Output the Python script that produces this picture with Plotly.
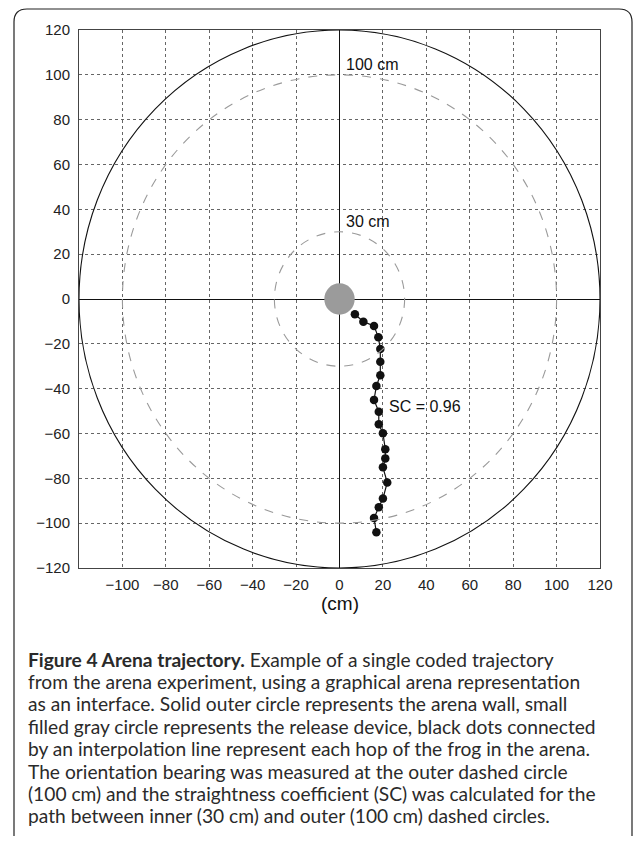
import plotly.graph_objects as go

# ---- data ----
hop_x = [7.1, 11.0, 15.9, 17.9, 18.8, 18.8, 18.8, 17.0, 15.9, 18.1,
         18.1, 20.0, 21.1, 21.1, 20.0, 22.0, 20.0, 18.1, 15.9, 17.0]
hop_y = [-6.8, -10.1, -12.0, -17.1, -22.3, -28.0, -34.0, -38.8, -45.0, -50.3,
         -55.9, -59.9, -67.0, -71.1, -75.1, -81.9, -89.0, -92.9, -97.7, -104.1]
arena_radius = 120
dashed_radii = [100, 30]
release_radius = 7
x_ticks = [-100, -80, -60, -40, -20, 0, 20, 40, 60, 80, 100, 120]
y_ticks = [-120, -100, -80, -60, -40, -20, 0, 20, 40, 60, 80, 100, 120]
circle_labels = [("100 cm", 2, 104.5), ("30 cm", 2, 34.4)]
sc_label = ("SC = 0.96", 22, -47.8)

caption_lines = [
    "<b>Figure 4 Arena trajectory.</b> Example of a single coded trajectory",
    "from the arena experiment, using a graphical arena representation",
    "as an interface. Solid outer circle represents the arena wall, small",
    "filled gray circle represents the release device, black dots connected",
    "by an interpolation line represent each hop of the frog in the arena.",
    "The orientation bearing was measured at the outer dashed circle",
    "(100 cm) and the straightness coefficient (SC) was calculated for the",
    "path between inner (30 cm) and outer (100 cm) dashed circles.",
]

# ---- layout geometry (pixels) ----
W, H = 635, 841
L, R, T, B = 79, 600, 30, 568

def px(x):
    return (x - L) / (R - L)

def py(y):
    return (B - y) / (B - T)

fig = go.Figure()

shapes = []
shapes.append(dict(type="circle", xref="x", yref="y",
                   x0=-arena_radius, x1=arena_radius, y0=-arena_radius, y1=arena_radius,
                   line=dict(color="#111", width=1.1), layer="above"))
for r in dashed_radii:
    shapes.append(dict(type="circle", xref="x", yref="y", x0=-r, x1=r, y0=-r, y1=r,
                       line=dict(color="#9a9a9a", width=1.1, dash="dash"), layer="above"))
shapes.append(dict(type="circle", xref="x", yref="y",
                   x0=-release_radius, x1=release_radius, y0=-release_radius, y1=release_radius,
                   fillcolor="#9b9b9b", line=dict(width=0), layer="above"))

# figure frame (rounded, cut off at right/bottom)
fl, ft, fr, fb, rad = 14, 9, 632, 836, 13
frame_path = (f"M {px(fl)} {py(fb)} L {px(fl)} {py(ft+rad)} "
              f"Q {px(fl)} {py(ft)} {px(fl+rad)} {py(ft)} "
              f"L {px(fr-rad)} {py(ft)} Q {px(fr)} {py(ft)} {px(fr)} {py(ft+rad)} "
              f"L {px(fr)} {py(fb)}")
shapes.append(dict(type="path", xref="paper", yref="paper", path=frame_path,
                   line=dict(color="#222", width=1.2)))

fig.add_trace(go.Scatter(x=hop_x, y=hop_y, mode="lines+markers",
                         line=dict(color="#111", width=1.2),
                         marker=dict(color="#111", size=8.5),
                         showlegend=False, hoverinfo="skip"))

annotations = []
for text, x, y in circle_labels + [sc_label]:
    annotations.append(dict(x=x, y=y, xref="x", yref="y", text=text, showarrow=False,
                            xanchor="left", yanchor="middle",
                            font=dict(family="Liberation Sans", size=16, color="#111")))

annotations.append(dict(x=px(339.5), y=py(603), xref="paper", yref="paper", text="(cm)",
                        showarrow=False, xanchor="center", yanchor="middle",
                        font=dict(family="Liberation Sans", size=19, color="#111")))

y0, dy = 659, 22.4
for i, line in enumerate(caption_lines):
    annotations.append(dict(x=px(26), y=py(y0 + i * dy), xref="paper", yref="paper",
                            text=line, showarrow=False, xanchor="left", yanchor="middle",
                            font=dict(family="Lato", size=19.2, color="#2a2a2a")))

axis_common = dict(showgrid=True, gridcolor="#666", griddash="dot", gridwidth=1,
                   zeroline=True, zerolinecolor="#111", zerolinewidth=1.4,
                   showline=True, mirror=True, linecolor="#444", linewidth=1,
                   ticks="", tickfont=dict(family="Liberation Sans", size=15, color="#222"),
                   range=[-120, 120], fixedrange=True)

fig.update_layout(
    width=W, height=H,
    margin=dict(l=L, r=W - R, t=T, b=H - B),
    paper_bgcolor="white", plot_bgcolor="white",
    xaxis=dict(tickvals=x_ticks, ticklabelstandoff=3, **axis_common),
    yaxis=dict(tickvals=y_ticks, ticklabelstandoff=5, **axis_common),
    shapes=shapes, annotations=annotations,
)

fig.write_html("out.html", config={"displayModeBar": False},
               post_script="document.body.style.margin='0';document.body.style.overflow='hidden';")
